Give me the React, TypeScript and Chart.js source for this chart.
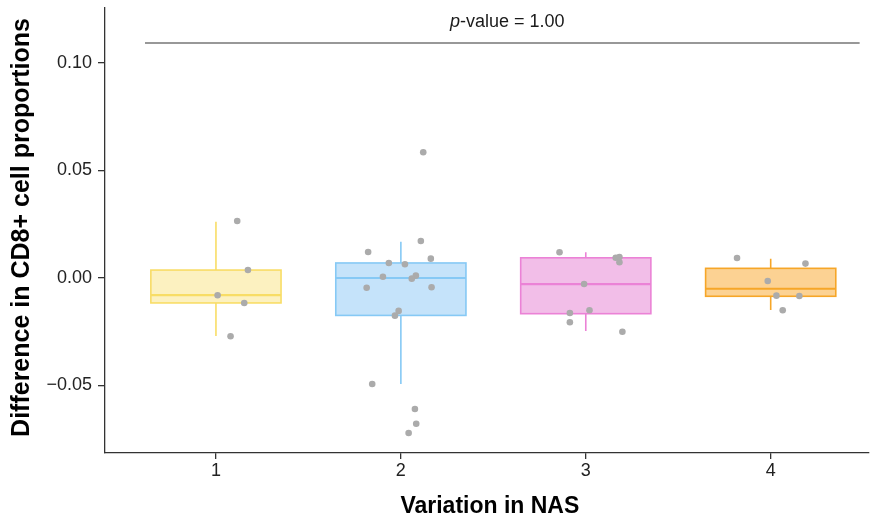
import React, { useEffect, useRef } from "react";
import { Chart, registerables } from "chart.js";

Chart.register(...registerables);

const categories = ["1", "2", "3", "4"];
const yTickValues = [-0.05, 0, 0.05, 0.1];

// box statistics per category
const whiskerLow = [-0.027, -0.0493, -0.0247, -0.0149];
const q1 = [-0.0116, -0.0174, -0.0166, -0.0085];
const median = [-0.008, 0.0, -0.0028, -0.005];
const q3 = [0.0037, 0.007, 0.0094, 0.0045];
const whiskerHigh = [0.0262, 0.0169, 0.012, 0.009];

// jittered observations
const values1 = [0.0265, 0.0037, -0.008, -0.0116, -0.0271];
const jitter1 = [0.115, 0.173, 0.009, 0.153, 0.079];
const values2 = [0.0585, 0.0172, 0.0121, 0.009, 0.007, 0.0064, 0.0006, 0.0011, -0.0003, -0.0045, -0.0043, -0.0153, -0.0175, -0.0493, -0.0609, -0.0678, -0.0721];
const jitter2 = [0.121, 0.108, -0.177, 0.162, -0.065, 0.022, -0.097, 0.081, 0.059, -0.185, 0.166, -0.012, -0.032, -0.155, 0.076, 0.083, 0.042];
const values3 = [0.012, 0.0094, 0.0098, 0.0073, -0.0028, -0.015, -0.0163, -0.0206, -0.025];
const jitter3 = [-0.142, 0.162, 0.182, 0.182, -0.009, 0.02, -0.086, -0.086, 0.198];
const values4 = [0.0093, 0.0067, -0.0014, -0.0082, -0.0084, -0.015];
const jitter4 = [-0.182, 0.188, -0.016, 0.031, 0.155, 0.065];

const groupValues = [values1, values2, values3, values4];
const groupJitter = [jitter1, jitter2, jitter3, jitter4];

const pValueText = "-value = 1.00";
const pValueY = 0.1093;
const pValueFrom = 0.616;
const pValueTo = 4.481;

const boxFill = ["#FCF1C0", "#C5E3FA", "#F2BEE8", "#FCD293"];
const boxStroke = ["#F8DD66", "#86C9F5", "#EB82D6", "#F6A628"];

const FONT = "'Liberation Sans', Arial, Helvetica, sans-serif";
const BOX_HALF = 0.352;

const boxPlugin = {
  id: "boxes",
  beforeDatasetsDraw(chart: any) {
    const ctx = chart.ctx;
    const xs = chart.scales.x;
    const ys = chart.scales.y;
    ctx.save();
    categories.forEach((_c, i) => {
      const cx = xs.getPixelForValue(i + 1);
      const left = xs.getPixelForValue(i + 1 - BOX_HALF);
      const right = xs.getPixelForValue(i + 1 + BOX_HALF);
      const yq1 = ys.getPixelForValue(q1[i]);
      const yq3 = ys.getPixelForValue(q3[i]);
      const ymed = ys.getPixelForValue(median[i]);
      const ylo = ys.getPixelForValue(whiskerLow[i]);
      const yhi = ys.getPixelForValue(whiskerHigh[i]);
      ctx.strokeStyle = boxStroke[i];
      ctx.lineWidth = 1.6;
      ctx.beginPath();
      ctx.moveTo(cx, yq3);
      ctx.lineTo(cx, yhi);
      ctx.moveTo(cx, yq1);
      ctx.lineTo(cx, ylo);
      ctx.stroke();
      ctx.fillStyle = boxFill[i];
      ctx.fillRect(left, yq3, right - left, yq1 - yq3);
      ctx.strokeRect(left, yq3, right - left, yq1 - yq3);
      ctx.lineWidth = 2.2;
      ctx.beginPath();
      ctx.moveTo(left, ymed);
      ctx.lineTo(right, ymed);
      ctx.stroke();
    });
    ctx.restore();
  },
  afterDraw(chart: any) {
    const ctx = chart.ctx;
    const xs = chart.scales.x;
    const ys = chart.scales.y;
    const area = chart.chartArea;
    ctx.save();
    // p-value bracket
    const lx0 = xs.getPixelForValue(pValueFrom);
    const lx1 = xs.getPixelForValue(pValueTo);
    const ly = ys.getPixelForValue(pValueY);
    ctx.strokeStyle = "#333333";
    ctx.lineWidth = 1.1;
    ctx.beginPath();
    ctx.moveTo(lx0, ly);
    ctx.lineTo(lx1, ly);
    ctx.stroke();
    ctx.fillStyle = "#1a1a1a";
    ctx.textBaseline = "middle";
    ctx.textAlign = "left";
    ctx.font = `italic 18px ${FONT}`;
    const wp = ctx.measureText("p").width;
    ctx.font = `18px ${FONT}`;
    const wr = ctx.measureText(pValueText).width;
    const start = (lx0 + lx1) / 2 + 5 - (wp + wr) / 2;
    ctx.font = `italic 18px ${FONT}`;
    ctx.fillText("p", start, ly - 21);
    ctx.font = `18px ${FONT}`;
    ctx.fillText(pValueText, start + wp, ly - 21);

    // axis titles
    ctx.fillStyle = "#000000";
    ctx.font = `bold 25px ${FONT}`;
    ctx.textAlign = "center";
    ctx.textBaseline = "middle";
    ctx.save();
    ctx.translate(22, (area.top + area.bottom) / 2 - 3);
    ctx.rotate(-Math.PI / 2);
    ctx.fillText("Difference in CD8+ cell proportions", 0, 0);
    ctx.restore();
    ctx.font = `bold 23px ${FONT}`;
    ctx.fillText("Variation in NAS", (area.left + area.right) / 2 + 3, 507);
    ctx.restore();
  },
};

export default function App() {
  const ref = useRef<HTMLCanvasElement>(null);

  useEffect(() => {
    if (!ref.current) return;
    const points: { x: number; y: number }[] = [];
    groupValues.forEach((vals, g) => {
      vals.forEach((v, k) => points.push({ x: g + 1 + groupJitter[g][k], y: v }));
    });
    const chart = new Chart(ref.current, {
      type: "scatter",
      data: {
        datasets: [
          {
            data: points,
            backgroundColor: "#ABABAB",
            borderWidth: 0,
            pointRadius: 3.3,
            pointHoverRadius: 3.3,
          },
        ],
      },
      options: {
        responsive: false,
        animation: false,
        events: [],
        layout: { padding: { top: 8, right: 0, left: 0, bottom: 0 } },
        plugins: { legend: { display: false }, tooltip: { enabled: false } },
        scales: {
          x: {
            type: "linear",
            min: 0.4,
            max: 4.53,
            afterBuildTicks: (s: any) => {
              s.ticks = categories.map((_c, i) => ({ value: i + 1 }));
            },
            afterFit: (s: any) => {
              s.height = 69;
              s.paddingLeft = 0;
              s.paddingRight = 0;
            },
            ticks: {
              autoSkip: false,
              maxRotation: 0,
              padding: 1,
              color: "#222222",
              font: { family: FONT, size: 18 },
              callback: (v: any) => categories[Number(v) - 1] ?? "",
            },
            grid: { drawOnChartArea: false, drawTicks: true, tickLength: 6, color: "#333333", lineWidth: 1.3 },
            border: { display: true, color: "#333333", width: 1.3 },
          },
          y: {
            type: "linear",
            min: -0.0814,
            max: 0.1256,
            afterBuildTicks: (s: any) => {
              s.ticks = yTickValues.map((v) => ({ value: v }));
            },
            afterFit: (s: any) => {
              s.width = 105;
              s.paddingTop = 0;
              s.paddingBottom = 0;
            },
            ticks: {
              autoSkip: false,
              padding: 6,
              color: "#222222",
              font: { family: FONT, size: 18 },
              callback: (v: any) => {
                const n = Number(v);
                const s = Math.abs(n).toFixed(2);
                return n < -1e-9 ? "\u2212" + s : s;
              },
            },
            grid: { drawOnChartArea: false, drawTicks: true, tickLength: 7, color: "#333333", lineWidth: 1.3 },
            border: { display: true, color: "#333333", width: 1.3 },
          },
        },
      },
      plugins: [boxPlugin],
    });
    return () => chart.destroy();
  }, []);

  return (
    <div style={{ position: "fixed", left: 0, top: 0, width: 872, height: 522, background: "#ffffff" }}>
      <canvas ref={ref} width={872} height={522} style={{ display: "block", width: 872, height: 522 }} />
    </div>
  );
}
